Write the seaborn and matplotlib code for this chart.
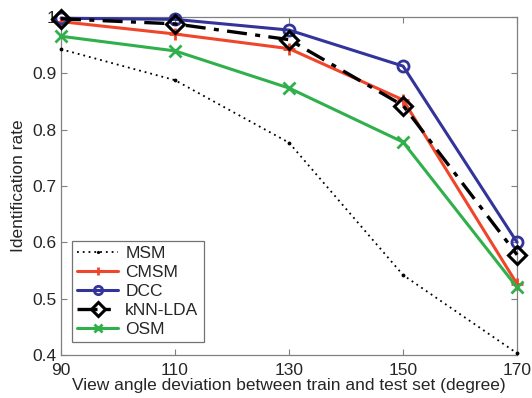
import matplotlib
matplotlib.use("Agg")
import matplotlib.pyplot as plt
import seaborn as sns
import pandas as pd

angles = [90, 110, 130, 150, 170]
msm = [0.943, 0.888, 0.777, 0.542, 0.403]
cmsm = [0.992, 0.970, 0.944, 0.853, 0.526]
dcc = [0.998, 0.996, 0.977, 0.913, 0.600]
knn_lda = [0.997, 0.988, 0.960, 0.843, 0.578]
osm = [0.966, 0.940, 0.874, 0.778, 0.520]

methods = ["MSM", "CMSM", "DCC", "kNN-LDA", "OSM"]
series = [msm, cmsm, dcc, knn_lda, osm]

df = pd.DataFrame(
    [(m, a, v) for m, vals in zip(methods, series) for a, v in zip(angles, vals)],
    columns=["method", "angle", "rate"],
)

sns.set_style("white")
plt.rcParams["font.family"] = ["Liberation Sans", "DejaVu Sans"]

colors = {"MSM": "black", "CMSM": "#f0452a", "DCC": "#33349a",
          "kNN-LDA": "black", "OSM": "#30b04a"}
styles = {
    "MSM": dict(linestyle=(0, (1, 2.2)), marker=".", markersize=4, linewidth=1.3),
    "CMSM": dict(linestyle="-", marker="+", markersize=8, linewidth=2.2, markeredgewidth=2),
    "DCC": dict(linestyle="-", marker="o", markersize=8, linewidth=2.2,
                markerfacecolor="none", markeredgewidth=2),
    "kNN-LDA": dict(linestyle=(0, (6, 2.5, 1.5, 2.5)), marker="D", markersize=9,
                    linewidth=2.4, markerfacecolor="none", markeredgewidth=2.2),
    "OSM": dict(linestyle="-", marker="x", markersize=8, linewidth=2.2, markeredgewidth=2),
}

fig = plt.figure(figsize=(5.32, 3.98), dpi=100)
ax = fig.add_axes([0.1147, 0.108, 0.8573, 0.849])

for m in methods:
    sub = df[df["method"] == m]
    sns.lineplot(data=sub, x="angle", y="rate", ax=ax, color=colors[m],
                 label=m, clip_on=False)
    line = ax.lines[-1]
    line.set(**styles[m])
    line.set_markeredgecolor(colors[m])
    line.set_zorder(3)

ax.set_xlim(90, 170)
ax.set_ylim(0.4, 1.0)
ax.set_xticks(angles)
ax.set_yticks([0.4, 0.5, 0.6, 0.7, 0.8, 0.9, 1.0])
ax.set_yticklabels(["0.4", "0.5", "0.6", "0.7", "0.8", "0.9", "1"])
ax.tick_params(direction="in", length=4, width=0.8, color="#808080",
               labelsize=12.5, top=True, right=True, bottom=True, left=True)
ax.tick_params(axis="x", pad=6)
ax.tick_params(axis="y", pad=3)
for s in ax.spines.values():
    s.set_color("#808080")
    s.set_linewidth(0.9)
ax.set_xlabel("View angle deviation between train and test set (degree)", fontsize=12.5, labelpad=0)
ax.set_ylabel("Identification rate", fontsize=12.5, labelpad=5)

leg = ax.legend(loc="lower left", fontsize=12.5, frameon=True, fancybox=False,
                edgecolor="#505050", borderpad=0.3, labelspacing=0.22,
                handlelength=2.4, handletextpad=0.4, markerscale=0.75,
                bbox_to_anchor=(0.004, 0.012))
leg.get_frame().set_linewidth(0.9)

fig.savefig("out.png", dpi=100)
